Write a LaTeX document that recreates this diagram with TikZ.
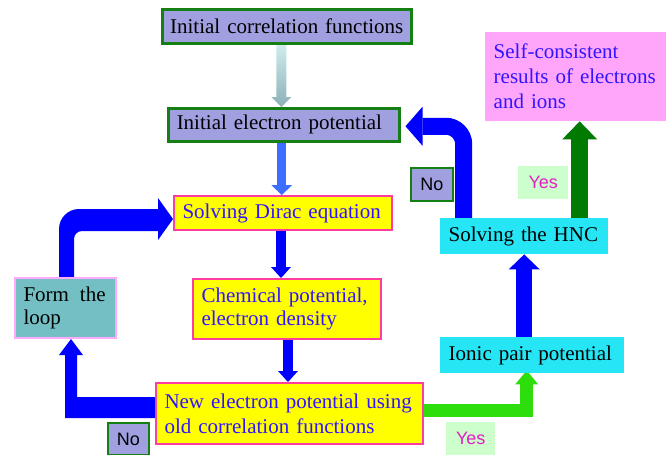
\documentclass[tikz,border=0pt]{standalone}
\usepackage{fontspec}
\setmainfont{Liberation Serif}
\setsansfont{Liberation Sans}
\usetikzlibrary{arrows.meta,calc,backgrounds}
\definecolor{lav}{RGB}{160,160,225}
\definecolor{grnb}{RGB}{20,128,20}
\definecolor{yel}{RGB}{255,255,0}
\definecolor{magb}{RGB}{255,60,160}
\definecolor{txtb}{RGB}{50,20,255}
\definecolor{teal2}{RGB}{115,191,196}
\definecolor{pinkb}{RGB}{255,170,255}
\definecolor{cyb}{RGB}{38,230,245}
\definecolor{pinkf}{RGB}{255,166,250}
\definecolor{arb}{RGB}{0,0,255}
\definecolor{arb2}{RGB}{60,110,255}
\definecolor{limec}{RGB}{45,222,12}
\definecolor{dkg}{RGB}{0,122,0}
\definecolor{yesf}{RGB}{204,255,204}
\definecolor{yest}{RGB}{230,30,200}
\definecolor{gtop}{RGB}{205,236,238}
\definecolor{gbot}{RGB}{140,176,182}
\tikzset{
  box/.style={anchor=north west, inner xsep=8.5pt, inner ysep=0pt, align=left,
    font=\fontsize{21}{25}\selectfont},
  lavbox/.style={box, fill=lav, draw=grnb, line width=2.5pt},
  ylbox/.style={box, fill=yel, draw=magb, line width=2pt, text=txtb},
  cybox/.style={box, fill=cyb},
  lbl/.style={anchor=north west, inner sep=0pt, align=center,
    font=\sffamily\fontsize{18}{21}\selectfont},
  nolbl/.style={lbl, fill=lav, draw=grnb, line width=2pt},
  yeslbl/.style={lbl, fill=yesf, text=yest},
}
\begin{document}
\hyphenpenalty=10000
\exhyphenpenalty=10000
\begin{tikzpicture}[x=1pt,y=-1pt]
\useasboundingbox (0,0) rectangle (667,455);
% boxes
\node[lavbox, inner xsep=4.5pt, align=center, minimum width=249, minimum height=34, text width=240] (A) at (161,8) {Initial correlation functions};
\node[lavbox, minimum width=231, minimum height=33, text width=214] (B) at (167,107) {Initial electron potential};
\node[ylbox, minimum width=218, minimum height=34, text width=201] (C) at (173,195) {Solving Dirac equation};
\node[ylbox, font=\fontsize{21}{23}\selectfont, minimum width=188, minimum height=60, text width=171] (D) at (192,278) {Chemical potential,\\electron density};
\node[ylbox, minimum width=267, minimum height=61, text width=250] (E) at (155,382) {New electron potential using\\old correlation functions};
\node[box, font=\fontsize{21}{23}\selectfont, fill=teal2, draw=pinkb, line width=2pt, minimum width=101, minimum height=60, text width=84] (F) at (14,277) {Form\nobreak\hspace{11pt}the\\loop};
\node[cybox, minimum width=184, minimum height=36, text width=167] (G) at (440,337) {Ionic pair potential};
\node[cybox, minimum width=168, minimum height=36, text width=151] (H) at (440,218) {Solving the HNC};
\node[box, fill=pinkf, text=txtb, minimum width=181, minimum height=89, text width=164] (I) at (485,32) {Self-consistent\\results of electrons\\and ions};
% labels
\node[nolbl, minimum width=42, minimum height=33] (noT) at (410,167) {No};
\node[nolbl, minimum width=41, minimum height=32] (noB) at (107,422) {No};
\node[yeslbl, minimum width=50, minimum height=33] (yesT) at (518,166) {Yes};
\node[yeslbl, minimum width=49, minimum height=33] (yesB) at (446,422) {Yes};
% helper coordinates
\coordinate (bc) at ([xshift=-2pt]B.south);
\coordinate (cd) at ([xshift=-2pt]C.south);
\coordinate (de) at ([xshift=1pt]D.south);
\coordinate (hb) at ([xshift=-60.5pt]H.north);
\coordinate (bt) at ([xshift=5pt,yshift=-1.5pt]B.east);
\coordinate (el) at ([yshift=3pt]E.east);
\coordinate (gl) at ([xshift=-5.5pt,yshift=3pt]G.south);
\coordinate (hg) at ([xshift=55.5pt]H.north);
\begin{scope}[on background layer]
% A -> B gradient arrow
\shade[top color=gtop, bottom color=gbot] let \p1=([xshift=-2.5pt]B.north), \p2=(A.south) in
  (\x1-5pt,\y2) -- (\x1+5pt,\y2) -- (\x1+5pt,\y1+10pt) -- (\x1+10pt,\y1+10pt) -- (\x1,\y1)
  -- (\x1-10pt,\y1+10pt) -- (\x1-5pt,\y1+10pt) -- cycle;
% B -> C
\draw[arb2, line width=9pt, -{Triangle[width=21pt,length=10pt,line width=0pt]}] (bc) -- (bc |- C.north);
% C -> D
\draw[arb, line width=10pt, -{Triangle[width=20pt,length=11pt,line width=0pt]}] (cd) -- (cd |- D.north);
% D -> E
\draw[arb, line width=10pt, -{Triangle[width=20pt,length=11pt,line width=0pt]}] (de) -- (de |- E.north);
% E -> F (No)
\fill[arb] let \p1=([xshift=5.5pt]F.south), \p2=(E.west) in
  (\x2,\y2+16.5pt) -- (\x1+6pt,\y2+16.5pt) -- (\x1+6pt,\y1-16pt) -- (\x1+12pt,\y1-16pt)
  -- (\x1,\y1) -- (\x1-12pt,\y1-16pt) -- (\x1-6pt,\y1-16pt) -- (\x1-6pt,\y2-4.5pt)
  -- (\x2,\y2-4.5pt) -- cycle;
% F -> C
\fill[arb] let \p1=(F.north), \p2=(C.west) in
  (\x1-6.5pt,\y1) -- (\x1-6.5pt,\y2-16pt) arc[start angle=180,end angle=90,radius=20pt]
  -- (\x2-15pt,\y2+4pt) -- (\x2-15pt,\y2+15pt) -- (\x2,\y2-6pt) -- (\x2-15pt,\y2-27pt)
  -- (\x2-15pt,\y2-18pt) -- (\x1+16.5pt,\y2-18pt) arc[start angle=90,end angle=180,radius=8pt]
  -- (\x1+8.5pt,\y1) -- cycle;
% E -> G (Yes)
\draw[limec, line width=13pt, -{Triangle[width=23pt,length=14pt,line width=0pt]}] (el) -| (gl);
% G -> H
\draw[arb, line width=16pt, -{Triangle[width=31pt,length=15pt,line width=0pt]}] (G.north -| H.south) -- (H.south);
% H -> B (No)
\draw[arb, line width=17pt, rounded corners=18pt, -{Triangle[width=39pt,length=17pt,line width=0pt]}] (hb) |- (bt);
% H -> I (Yes)
\draw[dkg, line width=17pt, -{Triangle[width=35pt,length=18pt,line width=0pt]}] (hg) -- (hg |- I.south);
\end{scope}
\end{tikzpicture}
\end{document}
